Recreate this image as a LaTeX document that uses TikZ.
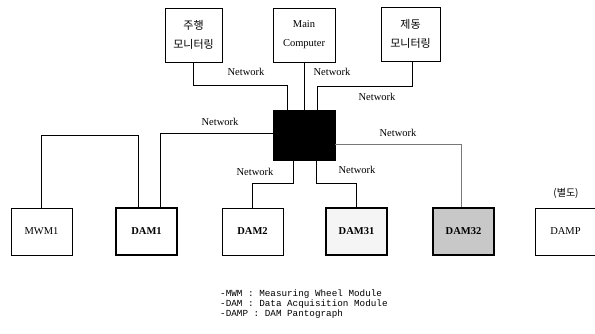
\documentclass[tikz,border=0pt]{standalone}
\usepackage{fontspec}
\setmainfont{Liberation Serif}
\setmonofont{Liberation Mono}
\newfontfamily\krfont{Noto Sans CJK KR}
\usepackage{xcolor}
\usepackage{tikz}
\definecolor{mygray}{RGB}{120,120,120}
\definecolor{dotgray}{RGB}{200,200,200}

\begin{document}
\begin{tikzpicture}[
  x=1pt, y=-1pt,
  every node/.style={font=\fontsize{10.5}{12}\selectfont, align=center, inner sep=0pt},
  topbox/.style={draw, line width=0.8pt, minimum height=54pt},
  module/.style={draw, line width=0.8pt, minimum width=61pt, minimum height=47pt},
  heavy/.style={module, line width=1.3pt, font=\fontsize{10.5}{12}\selectfont\bfseries},
  hubbox/.style={draw, fill=black, minimum width=62pt, minimum height=50pt},
  netlbl/.style={font=\fontsize{10.5}{12}\selectfont},
  link/.style={line width=0.6pt}
]
\useasboundingbox (0,0) rectangle (595,334);

% monitoring and main computer
\node[topbox, minimum width=57pt] (drive) at (193.5,35) {\krfont\fontsize{11}{12}\selectfont 주행\\[7pt]\krfont\fontsize{11}{12}\selectfont 모니터링};
\node[topbox, minimum width=62pt] (main) at (304,35) {Main\\[7pt]Computer};
\node[topbox, minimum width=59pt] (brake) at (410.5,34) {\krfont\fontsize{11}{12}\selectfont 제동\\[7pt]\krfont\fontsize{11}{12}\selectfont 모니터링};

% network hub
\node[hubbox] (hub) at (304,135) {};

% modules
\node[module] (mwm) at (41.5,231.5) {MWM1};
\node[heavy] (dam1) at (146.5,231.5) {DAM1};
\node[module, font=\fontsize{10.5}{12}\selectfont\bfseries] (dam2) at (252.5,231.5) {DAM2};
\node[heavy, fill=black!4] (dam31) at (356.5,231.5) {DAM31};
\node[heavy, fill=dotgray] (dam32) at (463.5,231.5) {DAM32};
\node[module] (damp) at (565.5,231.5) {DAMP};
\node[font=\krfont\fontsize{10}{11}\selectfont] (sep) at (566,193) {(별도)};

% bend points
\coordinate (b1) at (287,85);
\coordinate (b2) at (317,86);
\coordinate (b3) at (160,133);
\coordinate (b4) at (138,135);
\coordinate (b5) at (293,183);
\coordinate (b6) at (316,183);
\coordinate (b7) at (461,144);

% links
\draw[link] (drive.south) |- (b1) -- (b1 |- hub.north);
\draw[link] (main) -- (hub);
\draw[link] ([xshift=1.5pt]brake.south) |- (b2) -- (b2 |- hub.north);
\draw[link] (hub.west |- b3) -| (dam1.north -| b3);
\draw[link] (mwm.north) |- (b4) -- (b4 |- dam1.north);
\draw[link] (b5 |- hub.south) -- (b5) -| (dam2.north);
\draw[link] (b6 |- hub.south) -- (b6) -| (dam31.north);
\draw[link, mygray] (hub.east |- b7) -| (dam32.north -| b7);

% labels
\node[netlbl] (n1) at (246,72) {Network};
\node[netlbl] (n2) at (332,72) {Network};
\node[netlbl] (n3) at (377,97) {Network};
\node[netlbl] (n4) at (220,122) {Network};
\node[netlbl] (n5) at (398,133) {Network};
\node[netlbl] (n6) at (255,172) {Network};
\node[netlbl] (n7) at (357,170) {Network};

% legend
\node[anchor=north west, align=left, font=\ttfamily\fontsize{9.3}{7.6}\selectfont] (legend) at (220,290)
  {-MWM : Measuring Wheel Module\\-DAM : Data Acquisition Module\\-DAMP : DAM Pantograph};
\end{tikzpicture}
\end{document}
